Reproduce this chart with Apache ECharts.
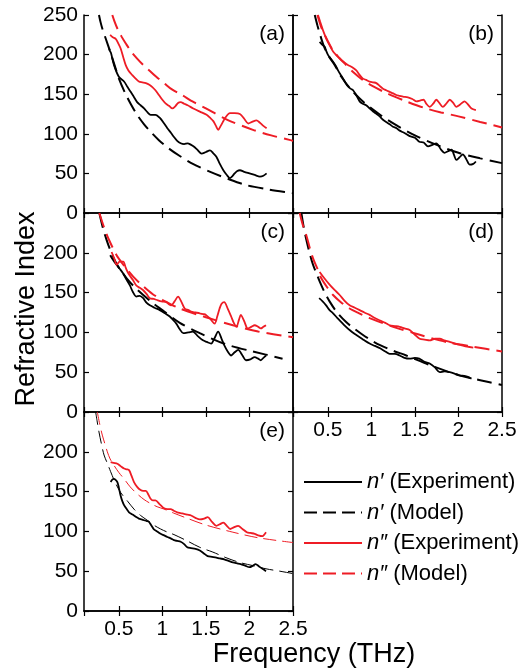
<!DOCTYPE html>
<html>
<head>
<meta charset="utf-8">
<script src="https://cdn.jsdelivr.net/npm/echarts@6/dist/echarts.min.js"></script>
<style>
	html, body { margin: 0; padding: 0; background: #fff; }
	#chart { width: 531px; height: 670px; }
</style>
</head>
<body>
<div id="chart"></div>
<script>
(function () {

	var FONT = "'Liberation Sans', Arial, sans-serif";
	var RED  = '#ee1c25';

	var yTicks = [0, 50, 100, 150, 200, 250];
	var freqRange = [0.1, 2.5];
	var legendNames = ['n\u2032 (Experiment)', 'n\u2032 (Model)', 'n\u2033 (Experiment)', 'n\u2033 (Model)'];
	var panelLabels = ['(a)', '(b)', '(c)', '(d)', '(e)'];

	// panel (a)
	var aExpReal = [[0.387,208],[0.4,204],[0.41,202],[0.444,187],[0.5,172],[0.56,166],[0.6,159],[0.636,153],[0.67,147],[0.71,140],[0.75,136],[0.79,132],[0.83,127],[0.865,124],[0.92,124],[0.98,119],[1.02,113],[1.057,107],[1.1,101],[1.133,96],[1.17,91],[1.21,88],[1.25,87],[1.29,88],[1.33,86],[1.36,84],[1.4,80],[1.45,75],[1.5,77],[1.546,79],[1.58,76],[1.62,71],[1.66,62],[1.7,54],[1.74,48],[1.776,44],[1.8,46],[1.83,50],[1.86,53],[1.89,54],[1.94,52],[2.0,50],[2.06,48],[2.12,46],[2.16,47],[2.197,50]];
	var aModelReal = [[0.272,250],[0.29,241],[0.31,233],[0.35,220],[0.4,204],[0.45,187],[0.5,170],[0.57,152],[0.64,137],[0.71,124],[0.79,112],[0.87,102],[0.96,92],[1.08,81],[1.2,72],[1.35,62],[1.55,52],[1.78,42],[1.97,35],[2.2,30],[2.43,26],[2.5,25]];
	var aExpImag = [[0.4,225],[0.43,222],[0.464,220],[0.49,215],[0.52,208],[0.55,197],[0.578,187],[0.61,180],[0.655,174],[0.69,170],[0.73,166],[0.77,165],[0.81,164],[0.85,162],[0.885,159],[0.92,155],[0.96,149],[1.0,143],[1.04,138],[1.08,135],[1.114,132],[1.15,135],[1.18,139],[1.21,140],[1.25,138],[1.29,136],[1.355,132],[1.43,128],[1.508,124],[1.55,120],[1.585,116],[1.615,110],[1.642,105],[1.67,110],[1.7,116],[1.72,120],[1.776,126],[1.83,126],[1.89,125],[1.94,119],[1.986,113],[2.03,115],[2.08,117],[2.12,114],[2.16,110],[2.197,107]];
	var aModelImag = [[0.425,250],[0.45,242],[0.483,233],[0.53,223],[0.58,214],[0.64,204],[0.71,195],[0.78,187],[0.85,180],[0.93,172],[1.02,164],[1.11,156],[1.21,150],[1.36,140],[1.5,132],[1.74,118],[2.04,105],[2.25,98],[2.47,92],[2.5,91]];

	// panel (b)
	var bExpReal = [[0.406,216],[0.44,212],[0.464,210],[0.48,205],[0.5,200],[0.53,195],[0.56,191],[0.59,186],[0.617,180],[0.645,175],[0.674,170],[0.7,165],[0.73,160],[0.76,157],[0.79,155],[0.83,148],[0.865,141],[0.9,138],[0.94,136],[0.98,132],[1.02,128],[1.06,125],[1.095,122],[1.13,118],[1.17,115],[1.21,112],[1.248,109],[1.29,107],[1.325,104],[1.38,101],[1.44,97],[1.5,95],[1.55,90],[1.6,89],[1.65,84],[1.7,86],[1.745,88],[1.8,80],[1.84,76],[1.88,78],[1.92,80],[1.95,73],[1.975,67],[2.01,70],[2.05,74],[2.09,68],[2.13,61],[2.17,62],[2.2,65]];
	var bModelReal = [[0.35,250],[0.38,237],[0.406,227],[0.45,212],[0.5,200],[0.578,187],[0.655,172],[0.75,158],[0.9,141],[1.1,124],[1.3,110],[1.5,98],[1.75,86],[2.0,76],[2.25,69],[2.5,63]];
	var bExpImag = [[0.387,250],[0.41,242],[0.425,237],[0.45,229],[0.483,220],[0.52,212],[0.56,204],[0.6,199],[0.636,195],[0.68,191],[0.73,187],[0.78,184],[0.827,180],[0.86,175],[0.9,170],[0.94,168],[0.98,166],[1.02,165],[1.057,164],[1.1,160],[1.133,157],[1.17,155],[1.21,153],[1.25,151],[1.286,149],[1.325,148],[1.363,147],[1.42,146],[1.47,144],[1.52,141],[1.56,142],[1.6,143],[1.63,138],[1.67,134],[1.71,138],[1.745,143],[1.78,139],[1.82,134],[1.86,138],[1.9,143],[1.94,139],[1.975,134],[2.02,137],[2.07,141],[2.11,137],[2.15,132],[2.2,130]];
	var bModelImag = [[0.38,250],[0.42,236],[0.45,228],[0.5,217],[0.56,205],[0.63,196],[0.7,188],[0.8,177],[0.9,168],[1.0,161],[1.2,150],[1.4,141],[1.6,133],[1.8,127],[2.0,122],[2.25,115],[2.5,108]];

	// panel (c)
	var cExpReal = [[0.4,197],[0.44,190],[0.474,185],[0.51,180],[0.55,174],[0.59,166],[0.627,159],[0.66,151],[0.7,145],[0.74,146],[0.78,143],[0.82,137],[0.856,134],[0.91,131],[0.97,128],[1.03,124],[1.085,120],[1.12,116],[1.16,111],[1.2,104],[1.24,99],[1.3,100],[1.35,101],[1.41,95],[1.466,90],[1.51,88],[1.56,86],[1.6,93],[1.64,101],[1.68,92],[1.71,84],[1.75,76],[1.79,71],[1.83,75],[1.87,78],[1.92,71],[1.96,65],[2.01,66],[2.06,69],[2.1,67],[2.13,65],[2.16,68],[2.19,71]];
	var cModelReal = [[0.276,250],[0.32,230],[0.36,216],[0.4,204],[0.455,190],[0.52,178],[0.59,168],[0.68,157],[0.78,147],[0.9,136],[1.0,128],[1.2,112],[1.43,99],[1.73,85],[2.04,76],[2.38,67]];
	var cExpImag = [[0.417,201],[0.45,192],[0.474,185],[0.51,189],[0.55,189],[0.58,181],[0.61,174],[0.66,166],[0.7,159],[0.74,156],[0.78,153],[0.82,148],[0.856,143],[0.9,142],[0.93,141],[0.99,139],[1.047,138],[1.08,135],[1.1,134],[1.14,139],[1.18,145],[1.22,138],[1.257,130],[1.3,128],[1.33,126],[1.38,125],[1.43,124],[1.47,123],[1.5,122],[1.55,117],[1.6,111],[1.63,120],[1.657,130],[1.68,136],[1.71,138],[1.75,130],[1.79,120],[1.82,112],[1.85,107],[1.88,116],[1.9,122],[1.94,114],[1.98,105],[2.02,107],[2.06,109],[2.1,107],[2.13,105],[2.16,107],[2.19,109]];
	var cModelImag = [[0.276,250],[0.33,232],[0.38,218],[0.474,197],[0.56,184],[0.665,170],[0.78,158],[0.89,148],[1.0,141],[1.2,130],[1.5,119],[1.81,109],[2.1,101],[2.5,94]];

	// panel (d)
	var dExpReal = [[0.4,143],[0.44,139],[0.48,134],[0.52,128],[0.56,124],[0.61,118],[0.655,113],[0.7,108],[0.75,103],[0.81,98],[0.866,94],[0.92,90],[0.98,86],[1.04,83],[1.1,80],[1.16,76],[1.21,73],[1.27,73],[1.325,71],[1.38,68],[1.44,67],[1.5,68],[1.55,67],[1.61,63],[1.67,61],[1.73,56],[1.785,50],[1.84,51],[1.9,50],[1.96,48],[2.01,46],[2.08,45],[2.15,42]];
	var dModelReal = [[0.196,250],[0.22,234],[0.25,218],[0.29,200],[0.33,185],[0.37,174],[0.406,164],[0.46,151],[0.52,139],[0.6,126],[0.71,113],[0.8,105],[0.9,97],[1.0,90],[1.1,84],[1.25,77],[1.4,71],[1.67,59],[2.01,46],[2.25,40],[2.5,34]];
	var dExpImag = [[0.406,176],[0.46,168],[0.52,160],[0.58,153],[0.636,147],[0.69,140],[0.75,134],[0.81,131],[0.866,128],[0.92,125],[0.98,122],[1.04,118],[1.1,115],[1.16,112],[1.21,109],[1.27,108],[1.325,107],[1.38,105],[1.44,103],[1.5,97],[1.555,92],[1.61,91],[1.67,90],[1.73,92],[1.785,92],[1.84,90],[1.9,88],[1.96,86],[2.03,84],[2.1,82],[2.17,81]];
	var dModelImag = [[0.177,250],[0.21,236],[0.25,223],[0.29,207],[0.33,193],[0.38,180],[0.425,168],[0.49,157],[0.56,147],[0.65,138],[0.75,130],[0.86,124],[0.98,118],[1.25,107],[1.555,97],[1.86,88],[2.17,82],[2.5,76]];

	// panel (e)
	var eExpReal = [[0.406,162],[0.425,165],[0.444,166],[0.46,165],[0.483,162],[0.5,155],[0.52,145],[0.54,138],[0.56,133],[0.59,128],[0.617,124],[0.645,122],[0.674,120],[0.7,118],[0.73,116],[0.76,115],[0.79,114],[0.82,113],[0.846,112],[0.87,108],[0.9,103],[0.94,100],[0.98,97],[1.02,95],[1.057,93],[1.1,91],[1.133,89],[1.17,88],[1.21,87],[1.25,84],[1.286,80],[1.33,79],[1.38,78],[1.43,76],[1.48,72],[1.52,69],[1.57,68],[1.62,67],[1.66,66],[1.71,65],[1.76,63],[1.81,61],[1.85,60],[1.9,59],[1.95,57],[2.0,55],[2.04,57],[2.07,59],[2.11,56],[2.15,53],[2.19,50]];
	var eModelReal = [[0.234,250],[0.25,239],[0.27,226],[0.3,210],[0.33,196],[0.37,185],[0.406,175],[0.46,161],[0.52,149],[0.6,138],[0.674,128],[0.75,120],[0.827,114],[0.9,108],[0.98,103],[1.06,99],[1.133,96],[1.286,88],[1.43,80],[1.58,74],[1.73,67],[1.886,61],[2.04,57],[2.19,53],[2.35,50],[2.5,47]];
	var eExpImag = [[0.406,187],[0.44,186],[0.483,185],[0.52,182],[0.56,179],[0.59,178],[0.617,177],[0.645,170],[0.674,162],[0.71,156],[0.75,152],[0.78,151],[0.81,151],[0.84,146],[0.865,141],[0.89,139],[0.92,139],[0.97,134],[1.02,129],[1.06,128],[1.095,128],[1.13,126],[1.17,124],[1.21,123],[1.248,122],[1.29,121],[1.33,120],[1.38,117],[1.43,115],[1.48,116],[1.52,118],[1.57,112],[1.62,107],[1.66,109],[1.7,111],[1.74,107],[1.78,103],[1.82,105],[1.87,107],[1.92,103],[1.97,99],[2.01,98],[2.06,97],[2.1,95],[2.15,94],[2.17,96],[2.19,99]];
	var eModelImag = [[0.253,250],[0.28,235],[0.31,221],[0.34,210],[0.368,200],[0.4,191],[0.444,183],[0.5,174],[0.56,166],[0.63,156],[0.712,147],[0.79,140],[0.865,135],[0.94,131],[1.02,128],[1.13,123],[1.248,118],[1.5,108],[1.81,99],[2.1,92],[2.5,86]];

	var panelData = [
		[aExpReal, aModelReal, aExpImag, aModelImag],
		[bExpReal, bModelReal, bExpImag, bModelImag],
		[cExpReal, cModelReal, cExpImag, cModelImag],
		[dExpReal, dModelReal, dExpImag, dModelImag],
		[eExpReal, eModelReal, eExpImag, eModelImag]
	];

	// layout of the five boxes
	var boxes = [
		{ left: 84,  top: 15,  width: 209, height: 198, yLabels: true,  hideTop: false, xLabels: false },
		{ left: 293, top: 15,  width: 209, height: 198, yLabels: false, hideTop: false, xLabels: false },
		{ left: 84,  top: 213, width: 209, height: 199, yLabels: true,  hideTop: true,  xLabels: false },
		{ left: 293, top: 213, width: 209, height: 199, yLabels: false, hideTop: true,  xLabels: true  },
		{ left: 84,  top: 412, width: 209, height: 199, yLabels: true,  hideTop: true,  xLabels: true  }
	];

	var axisLine = { lineStyle: { color: '#000', width: 1.5 } };
	var tick = { inside: true, length: 5, lineStyle: { color: '#000', width: 1.2 } };

	var grids = [], xAxes = [], yAxes = [], series = [];

	boxes.forEach(function (b, i) {
		grids.push({ left: b.left, top: b.top, width: b.width, height: b.height, containLabel: false });
		var xBase = {
			type: 'value', gridIndex: i, min: freqRange[0], max: freqRange[1],
			splitNumber: 5, minInterval: 0.5, maxInterval: 0.5,
			splitLine: { show: false }, axisLine: axisLine, axisTick: tick
		};
		xAxes.push(Object.assign({}, xBase, {
			position: 'bottom',
			axisLabel: { show: b.xLabels, showMinLabel: false, margin: 8, fontSize: 21, color: '#000', fontFamily: FONT }
		}));
		xAxes.push(Object.assign({}, xBase, { position: 'top', axisLabel: { show: false } }));

		var yBase = {
			type: 'value', gridIndex: i, min: yTicks[0], max: yTicks[yTicks.length - 1], interval: 50,
			splitLine: { show: false }, axisLine: axisLine, axisTick: tick
		};
		yAxes.push(Object.assign({}, yBase, {
			position: 'left',
			axisLabel: { show: b.yLabels, showMaxLabel: !b.hideTop, margin: 6, fontSize: 21, color: '#000', fontFamily: FONT }
		}));
		yAxes.push(Object.assign({}, yBase, { position: 'right', axisLabel: { show: false } }));

		var last = i === 4;
		var dashW = last ? 1 : 2;
		var dash = last ? [13, 6] : [15, 7];
		var styles = [
			{ color: '#000', width: 1.8, type: 'solid' },
			{ color: '#000', width: dashW, type: dash },
			{ color: RED, width: 1.8, type: 'solid' },
			{ color: RED, width: dashW, type: dash }
		];
		[1, 3, 0, 2].forEach(function (k) {
			series.push({
				name: last ? legendNames[k] : panelLabels[i] + k,
				type: 'line', xAxisIndex: 2 * i, yAxisIndex: 2 * i,
				data: panelData[i][k], symbol: 'none', smooth: 0.3,
				lineStyle: styles[k], itemStyle: { color: styles[k].color },
				clip: true, z: k % 2 === 0 ? 3 : 2
			});
		});
	});

	var graphics = panelLabels.map(function (lbl, i) {
		var b = boxes[i];
		return {
			type: 'text', right: 531 - (b.left + b.width - 8), top: b.top + 9,
			style: { text: lbl, fontSize: 21, fontFamily: FONT, fill: '#000' }
		};
	});
	graphics.push({
		type: 'text', x: 27, y: 309, rotation: Math.PI / 2,
		style: { text: 'Refractive Index', fontSize: 27, fontFamily: FONT, fill: '#000', align: 'center', verticalAlign: 'middle' }
	});
	graphics.push({
		type: 'text', x: 314, y: 655,
		style: { text: 'Frequency (THz)', fontSize: 27, fontFamily: FONT, fill: '#000', align: 'center', verticalAlign: 'middle' }
	});

	var chart = echarts.init(document.getElementById('chart'));
	chart.setOption({
		animation: false,
		backgroundColor: '#fff',
		grid: grids,
		xAxis: xAxes,
		yAxis: yAxes,
		legend: {
			data: legendNames,
			orient: 'vertical', left: 298, top: 466,
			itemWidth: 58, itemHeight: 14, itemGap: 8.5,
			itemStyle: { opacity: 0 },
			textStyle: {
				fontSize: 22, fontFamily: FONT, color: '#000',
				rich: { i: { fontStyle: 'italic', fontSize: 22, fontFamily: FONT } }
			},
			formatter: function (name) {
				return '{i|' + name.charAt(0) + name.charAt(1) + '}' + name.slice(2);
			}
		},
		graphic: graphics,
		series: series
	});

})();
</script>
</body>
</html>
